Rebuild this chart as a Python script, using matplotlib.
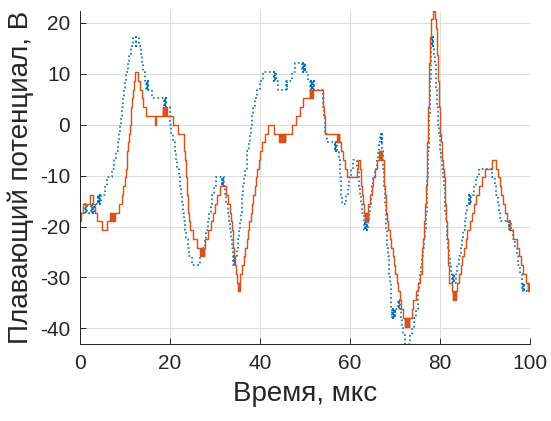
import matplotlib
matplotlib.use("Agg")
import matplotlib.pyplot as plt

plt.rcParams['font.family'] = ['Liberation Sans', 'DejaVu Sans']
plt.rcParams['axes.unicode_minus'] = False

# ADC step of the floating-potential digitiser, volts per code
lsb = 1.724

# Probe 1 (dotted blue): (time, µs ; ADC code) breakpoints of the stepped record
probe1 = [
    (0.0, -10),
    (1.0, -9), (1.1, -10), (1.2, -9), (1.3, -10), (1.4, -9), (1.5, -10),
    (2.5, -9), (2.6, -10), (2.7, -9), (2.8, -10), (2.9, -9), (3.0, -10), (3.1, -9), (3.2, -10), (3.3, -9),
    (4.0, -8), (4.1, -9), (4.2, -8), (4.3, -9), (4.4, -8), (4.5, -9), (4.6, -8),
    (5.5, -7), (6.1, -6), (7.0, -5), (7.55, -4), (8.05, -3), (8.4, -2), (8.7, -1), (8.95, 0),
    (9.2, 1), (9.4, 2), (9.6, 3), (9.8, 4), (10.0, 5), (10.3, 6), (10.6, 7), (10.9, 8), (11.3, 9),
    (11.7, 10), (12.35, 9), (12.55, 10), (13.1, 9), (13.5, 8), (13.8, 7), (14.1, 6), (14.4, 5),
    (14.75, 4), (14.85, 5), (14.95, 4), (15.05, 5), (15.1, 4),
    (15.9, 3),
    (18.7, 2), (18.8, 3), (18.9, 2), (19.0, 3), (19.1, 2),
    (19.9, 1), (20.1, 0), (20.3, -1), (20.6, -2), (21.0, -3), (21.3, -4), (21.6, -5), (21.9, -6),
    (22.15, -7), (22.4, -8), (22.6, -9), (22.85, -10), (23.1, -11), (23.35, -12), (23.6, -13),
    (23.9, -14), (24.3, -15), (24.9, -16), (26.7, -15), (27.2, -14), (27.7, -13), (28.1, -12),
    (28.45, -11), (28.7, -10), (29.0, -9), (29.3, -8), (29.75, -7), (30.2, -6),
    (31.5, -7), (31.6, -6), (31.7, -7), (31.8, -6),
    (32.0, -7), (32.2, -8), (32.55, -9), (32.8, -10), (33.05, -11), (33.3, -12), (33.5, -13), (33.75, -14),
    (34.0, -15), (34.1, -16), (34.2, -15), (34.3, -16), (34.4, -15),
    (34.8, -14), (35.0, -13), (35.3, -12), (35.6, -11), (35.75, -10), (35.9, -9), (36.1, -8),
    (36.3, -7), (36.5, -6), (36.7, -5), (37.0, -4), (37.2, -3), (37.45, -2), (37.7, -1), (37.9, 0),
    (38.15, 1), (38.45, 2), (38.85, 3), (39.3, 4), (39.9, 5), (40.6, 6),
    (43.1, 5), (43.2, 6), (43.3, 5), (43.4, 6), (43.5, 5),
    (44.05, 4),
    (45.8, 5), (45.9, 4), (46.0, 5),
    (47.0, 6), (47.8, 7),
    (49.4, 6), (49.5, 7), (49.6, 6), (49.7, 7), (49.8, 6), (49.9, 7), (50.0, 6),
    (50.7, 5),
    (51.0, 4), (51.1, 5), (51.2, 4), (51.3, 5), (51.4, 4), (51.5, 5), (51.6, 4), (51.7, 5),
    (51.8, 4), (51.9, 5), (52.0, 4),
    (53.9, 3), (54.05, 2), (54.2, 1), (54.35, 0), (54.55, -1), (54.8, -2),
    (56.6, -3), (56.7, -2), (56.8, -3), (56.9, -2), (57.0, -3), (57.1, -2), (57.2, -3),
    (57.65, -4), (57.75, -5), (57.85, -6), (57.95, -7), (58.05, -8), (58.15, -9),
    (59.2, -8), (59.5, -7), (59.85, -6), (60.2, -5), (60.6, -4), (61.5, -5), (61.9, -6),
    (62.1, -7), (62.3, -8), (62.5, -9), (62.75, -10), (63.0, -11),
    (63.2, -12), (63.3, -11), (63.4, -12), (63.5, -11), (63.6, -12), (63.7, -11), (63.8, -12), (63.9, -11),
    (64.2, -10), (64.4, -9), (64.6, -8), (64.8, -7), (65.1, -6), (65.5, -5), (65.9, -4),
    (66.2, -3), (66.45, -2), (66.7, -1),
    (66.9, -2), (67.0, -1), (67.1, -2),
    (67.2, -3), (67.3, -4), (67.4, -5), (67.5, -6), (67.6, -7), (67.7, -8), (67.8, -9),
    (67.9, -10), (68.0, -11), (68.1, -12), (68.2, -13), (68.3, -14), (68.45, -15), (68.6, -16),
    (68.75, -17), (68.9, -18), (69.0, -19), (69.1, -20), (69.2, -21),
    (69.3, -22), (69.4, -21), (69.5, -22), (69.6, -21), (69.7, -22), (69.8, -21), (69.9, -22), (70.0, -21),
    (70.7, -20), (70.8, -21), (70.9, -20), (71.0, -21),
    (71.3, -22), (71.5, -23), (71.85, -24), (72.2, -25), (73.4, -24), (73.8, -23), (74.3, -22),
    (74.6, -21), (75.0, -20), (75.15, -19), (75.3, -18), (75.6, -17), (75.85, -16), (76.0, -15),
    (76.25, -14), (76.4, -13), (76.6, -12), (76.8, -11), (76.9, -10), (77.0, -9), (77.07, -8),
    (77.13, -7), (77.2, -6), (77.27, -5), (77.33, -4), (77.4, -3), (77.47, -2), (77.53, -1),
    (77.6, 0), (77.65, 1), (77.7, 2), (77.75, 3), (77.8, 4), (77.85, 5), (77.9, 6), (77.97, 7),
    (78.03, 8), (78.1, 9),
    (78.15, 10), (78.25, 9), (78.35, 10), (78.45, 9),
    (78.7, 8), (78.8, 7), (79.0, 6), (79.1, 5), (79.2, 4), (79.3, 3), (79.4, 2), (79.5, 1),
    (79.65, 0), (79.8, -1), (79.95, -2), (80.1, -3), (80.3, -4), (80.5, -5), (80.75, -6),
    (80.9, -7), (81.0, -8), (81.1, -9), (81.2, -10), (81.3, -11), (81.45, -12), (81.6, -13),
    (81.8, -14), (82.0, -15), (82.3, -16), (82.55, -17),
    (82.7, -18), (82.8, -17), (82.9, -18), (83.0, -17), (83.1, -18),
    (83.5, -17), (83.85, -16), (84.2, -15), (84.6, -14), (84.95, -13), (85.2, -12), (85.5, -11),
    (85.7, -10), (86.1, -9),
    (86.4, -8), (86.5, -9), (86.6, -8), (86.7, -9), (86.8, -8),
    (87.5, -7), (87.9, -6), (88.7, -5), (91.5, -6), (92.2, -7), (92.5, -8), (92.8, -9),
    (93.1, -10), (93.4, -11),
    (95.3, -12), (95.4, -11), (95.5, -12), (95.6, -11), (95.7, -12),
    (96.2, -13), (96.6, -14), (97.0, -15), (97.4, -16), (97.8, -17), (98.2, -18),
    (98.3, -19), (98.4, -18), (98.5, -19), (98.6, -18), (98.7, -19),
    (100.0, -19),
]

# Probe 2 (solid orange): (time, µs ; ADC code) breakpoints of the stepped record
probe2 = [
    (0.0, -11), (0.3, -10), (0.6, -9), (2.2, -8), (2.8, -9), (3.4, -10), (3.7, -11), (4.8, -12),
    (6.1, -11),
    (6.7, -10), (6.8, -11), (6.9, -10), (7.0, -11), (7.1, -10), (7.2, -11), (7.3, -10), (7.4, -11),
    (7.5, -10), (7.6, -11), (7.7, -10),
    (8.75, -9), (9.3, -8), (9.65, -7), (9.95, -6), (10.15, -5), (10.35, -4), (10.55, -3),
    (10.75, -2), (10.95, -1), (11.1, 0), (11.25, 1), (11.4, 2), (11.6, 3), (11.8, 4), (12.0, 5),
    (12.3, 6), (12.9, 5), (13.25, 4), (13.75, 3), (14.1, 2), (14.7, 1), (16.65, 0), (16.95, 1),
    (18.4, 2), (18.5, 1), (18.6, 2), (18.7, 1), (18.8, 2), (18.9, 1), (19.0, 2), (19.1, 1),
    (19.2, 2), (19.3, 1),
    (20.7, 0), (21.8, -1), (23.1, -2), (23.2, -3), (23.3, -4), (23.45, -5), (23.55, -6),
    (23.7, -7), (23.8, -8), (23.95, -9), (24.05, -10), (24.2, -11), (24.35, -12), (25.2, -13),
    (25.9, -14),
    (26.7, -15), (26.8, -14), (26.9, -15), (27.0, -14), (27.1, -15), (27.2, -14), (27.3, -15),
    (27.4, -14), (27.5, -15), (27.6, -14),
    (27.8, -13), (28.5, -12), (29.0, -11), (29.6, -10), (30.0, -9), (30.4, -8), (31.1, -7),
    (32.4, -8), (32.95, -9), (33.3, -10), (33.5, -11), (33.7, -12), (33.9, -13), (34.1, -14),
    (34.3, -15), (34.5, -16), (34.65, -17), (34.8, -18),
    (35.0, -19), (35.1, -18), (35.2, -19), (35.3, -18), (35.4, -19), (35.5, -18),
    (35.6, -17), (36.1, -16), (36.4, -15), (36.7, -14), (37.0, -13), (37.3, -12), (37.6, -11),
    (37.9, -10), (38.2, -9), (38.5, -8), (38.8, -7), (39.1, -6), (39.4, -5), (39.7, -4),
    (40.0, -3), (40.4, -2), (41.1, -1), (41.85, 0), (43.1, -1),
    (44.3, -2), (44.4, -1), (44.5, -2), (44.6, -1), (44.7, -2), (44.8, -1), (44.9, -2), (45.0, -1),
    (45.1, -2), (45.2, -1), (45.3, -2), (45.4, -1), (45.5, -2), (45.6, -1),
    (47.0, 0), (48.1, 1), (48.9, 2), (49.5, 3),
    (51.1, 4), (51.2, 3), (51.3, 4), (51.4, 3), (51.5, 4), (51.6, 3), (51.7, 4),
    (53.9, 3), (54.05, 2), (54.2, 1), (54.35, 0), (54.5, -1),
    (57.2, -2), (57.3, -1), (57.4, -2), (57.5, -1), (57.6, -2),
    (58.1, -3), (58.5, -4), (58.9, -5), (59.3, -6), (61.6, -5), (61.8, -4), (62.2, -5), (62.4, -6),
    (62.55, -7), (62.7, -8), (62.85, -9), (63.0, -10),
    (63.3, -11), (63.4, -10), (63.5, -11), (63.6, -10), (63.7, -11), (63.8, -10), (63.9, -11), (64.0, -10),
    (64.1, -9), (64.4, -8), (64.8, -7), (65.2, -6), (65.6, -5), (66.0, -4),
    (66.5, -3), (66.6, -4), (66.7, -3), (66.8, -4), (66.9, -3), (67.0, -4), (67.1, -3), (67.2, -4),
    (67.45, -5), (67.55, -6), (67.65, -7), (67.75, -8), (67.9, -9), (68.1, -10), (68.3, -11),
    (68.5, -12), (68.85, -13), (69.2, -14), (69.5, -15), (69.8, -16), (70.1, -17), (70.4, -18),
    (70.75, -19), (71.1, -20), (71.4, -21), (71.7, -22),
    (72.2, -23), (72.3, -22), (72.4, -23), (72.5, -22), (72.6, -23), (72.7, -22), (72.8, -23),
    (72.9, -22), (73.0, -23), (73.1, -22),
    (73.7, -21), (74.1, -20), (74.6, -19), (75.1, -18), (75.5, -17), (75.9, -16), (76.0, -15),
    (76.1, -14), (76.25, -13), (76.4, -12), (76.5, -11), (76.6, -10), (76.7, -9), (76.8, -8),
    (76.9, -7), (77.0, -6), (77.05, -5), (77.1, -4), (77.15, -3), (77.2, -2), (77.25, -1),
    (77.3, 0), (77.35, 1), (77.4, 2), (77.45, 3), (77.5, 4), (77.55, 5), (77.6, 6), (77.65, 7),
    (77.7, 8), (77.8, 9), (77.85, 10), (77.9, 11), (78.1, 12), (78.4, 13), (78.9, 12), (79.1, 11),
    (79.25, 10), (79.35, 9), (79.4, 8), (79.5, 7), (79.55, 6), (79.6, 5), (79.7, 4), (79.75, 3),
    (79.8, 2), (79.9, 1), (80.0, 0), (80.1, -1), (80.2, -2), (80.35, -3), (80.5, -4), (80.7, -5),
    (80.9, -6), (81.0, -7), (81.1, -8), (81.2, -9), (81.3, -10), (81.4, -11), (81.5, -12),
    (81.6, -13), (81.7, -14), (81.75, -15), (81.8, -16), (81.9, -17), (82.0, -18),
    (82.7, -19), (82.8, -20), (82.9, -19), (83.0, -20), (83.1, -19), (83.2, -20), (83.3, -19), (83.4, -20),
    (83.5, -19), (83.85, -18), (84.2, -17), (84.6, -16), (84.95, -15), (85.3, -14), (85.7, -13),
    (86.1, -12), (86.6, -11), (87.2, -10), (87.6, -9), (88.1, -8), (88.7, -7), (89.4, -6),
    (90.1, -5), (91.5, -4), (92.4, -5), (92.9, -6), (93.3, -7), (93.6, -8), (94.0, -9),
    (94.4, -10), (94.9, -11), (95.6, -12), (96.3, -13), (97.0, -14), (97.5, -15), (98.0, -16),
    (98.5, -17), (99.0, -18),
    (99.5, -19), (99.6, -18), (99.7, -19), (99.8, -18), (99.9, -19), (100.0, -19),
]

x_ticks = [0, 20, 40, 60, 80, 100]
y_ticks = [-40, -30, -20, -10, 0, 10, 20]
x_label = 'Время, мкс'
y_label = 'Плавающий потенциал, В'

blue = '#0072BD'
orange = '#D95319'
ink = '#262626'

fig = plt.figure(figsize=(5.51, 4.21), dpi=100)
ax = fig.add_axes([0.1452, 0.1826, 0.8167, 0.7920])

t1, c1 = zip(*probe1)
t2, c2 = zip(*probe2)
ax.plot(t1, [c * lsb for c in c1], drawstyle='steps-post', linestyle=':',
        color=blue, linewidth=1.2)
ax.plot(t2, [c * lsb for c in c2], drawstyle='steps-post', linestyle='-',
        color=orange, linewidth=1.05)

ax.set_xlim(0, 100)
ax.set_ylim(-25 * lsb, 13 * lsb)
ax.set_xticks(x_ticks)
ax.set_yticks(y_ticks)

ax.grid(True, color='#dcdcdc', linewidth=0.7)
ax.set_axisbelow(True)
for side in ('top', 'right'):
    ax.spines[side].set_visible(False)
for side in ('left', 'bottom'):
    ax.spines[side].set_color(ink)
    ax.spines[side].set_linewidth(0.7)

ax.tick_params(direction='in', length=4, width=0.7, color=ink,
               labelcolor=ink, labelsize=15, pad=7)
ax.set_xlabel(x_label, fontsize=20, color=ink, labelpad=6)
ax.set_ylabel(y_label, fontsize=20, color=ink, labelpad=4)

fig.savefig('out.png', dpi=100)
